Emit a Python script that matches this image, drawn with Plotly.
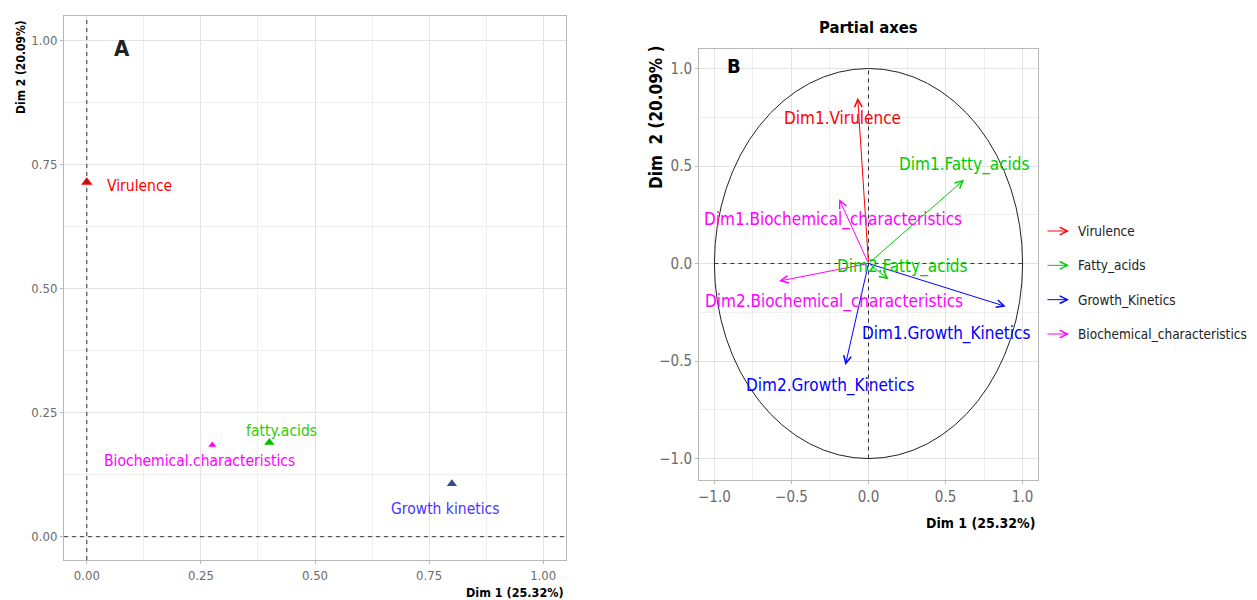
import plotly.graph_objects as go

# ---------------- Data ----------------
# Panel A : groups representation
A_groups = ["Virulence", "fatty.acids", "Biochemical.characteristics", "Growth kinetics"]
A_dim1 = [0.0, 0.40, 0.275, 0.80]
A_dim2 = [0.715, 0.19, 0.185, 0.107]

# Panel B : partial axes
B_groups = ["Virulence", "Fatty_acids", "Growth_Kinetics", "Biochemical_characteristics"]
B_axes = ["Dim1.Virulence", "Dim1.Fatty_acids", "Dim2.Fatty_acids",
          "Dim1.Growth_Kinetics", "Dim2.Growth_Kinetics",
          "Dim1.Biochemical_characteristics", "Dim2.Biochemical_characteristics"]
B_axis_group = ["Virulence", "Fatty_acids", "Fatty_acids",
                "Growth_Kinetics", "Growth_Kinetics",
                "Biochemical_characteristics", "Biochemical_characteristics"]
B_dim1 = [-0.07, 0.62, 0.13, 0.89, -0.15, -0.19, -0.58]
B_dim2 = [0.85, 0.43, -0.08, -0.22, -0.52, 0.33, -0.09]

A_ticks = [0.0, 0.25, 0.5, 0.75, 1.0]
B_ticks = [-1.0, -0.5, 0.0, 0.5, 1.0]

# ---------------- Styles ----------------
NARROW = "DejaVu Sans Condensed, Liberation Sans Narrow, sans-serif"
BOLD = "DejaVu Sans Condensed, Liberation Sans, sans-serif"
A_label_color = ["#FF0000", "#33CC00", "#FF00FF", "#4B33FF"]
A_marker_color = ["#FF0000", "#00C000", "#FF00FF", "#34508C"]
A_marker_size = [10, 9, 7, 9]
A_label_anchor = ["left", "center", "center", "center"]
A_label_shift = [(18, -4), (12, 11), (-13, -16), (-6, -25)]
B_color = {"Virulence": "#FF0000", "Fatty_acids": "#00CD00",
           "Growth_Kinetics": "#0000FF", "Biochemical_characteristics": "#FF00FF"}
B_label_shift = [(-15, -20), (0, 15), (14, 13), (-59, -27), (-15, -21), (-6, -20), (55, -20)]

# page body has an 8px margin -> figure is drawn at (8, 8)
OFF = 8
W, H = 1257 - OFF, 600 - OFF


def px(x):
    return (x - OFF) / W


def py(y):
    return 1 - (y - OFF) / H


fig = go.Figure()

# Panel A markers
for g, x, y, c, s in zip(A_groups, A_dim1, A_dim2, A_marker_color, A_marker_size):
    fig.add_trace(go.Scatter(x=[x], y=[y], mode="markers", xaxis="x", yaxis="y",
                             marker=dict(symbol="triangle-up", color=c, size=s),
                             showlegend=False, hoverinfo="text", text=[g]))

ann = []
for g, x, y, c, anc, (dx, dy) in zip(A_groups, A_dim1, A_dim2, A_label_color, A_label_anchor, A_label_shift):
    ann.append(dict(x=x, y=y, xref="x", yref="y", text=g, showarrow=False,
                    xanchor=anc, yanchor="middle", xshift=dx, yshift=dy,
                    font=dict(family=NARROW, size=15.5, color=c)))

# Panel B arrows
for name, g, x, y in zip(B_axes, B_axis_group, B_dim1, B_dim2):
    ann.append(dict(x=x, y=y, xref="x2", yref="y2", ax=0, ay=0, axref="x2", ayref="y2",
                    text="", showarrow=True, arrowhead=5, arrowwidth=1, arrowsize=1.5,
                    arrowcolor=B_color[g]))
for name, g, x, y, (dx, dy) in zip(B_axes, B_axis_group, B_dim1, B_dim2, B_label_shift):
    ann.append(dict(x=x, y=y, xref="x2", yref="y2", text=name, showarrow=False,
                    xshift=dx, yshift=dy, xanchor="center", yanchor="middle",
                    font=dict(family=NARROW, size=17, color=B_color[g])))

# Legend for panel B (own hidden axis)
for i, g in enumerate(B_groups):
    ann.append(dict(x=1, y=i, xref="x3", yref="y3", ax=0, ay=i, axref="x3", ayref="y3",
                    text="", showarrow=True, arrowhead=5, arrowwidth=1, arrowsize=1.5,
                    arrowcolor=B_color[g]))
    ann.append(dict(x=1.3, y=i, xref="x3", yref="y3", text=g, showarrow=False,
                    xanchor="left", yanchor="middle",
                    font=dict(family=NARROW, size=13.5, color="#222222")))
fig.add_trace(go.Scatter(x=[0], y=[0], xaxis="x3", yaxis="y3", mode="markers",
                         marker=dict(opacity=0), showlegend=False, hoverinfo="skip"))

# Titles / panel letters
ann += [
    dict(x=0.078, y=0.985, xref="x", yref="y", text="<b>A</b>", showarrow=False,
         font=dict(family=BOLD, size=22, color="#222222")),
    dict(x=-0.87, y=1.015, xref="x2", yref="y2", text="<b>B</b>", showarrow=False,
         font=dict(family=BOLD, size=20, color="#000000")),
    dict(x=px(566), y=py(592), xref="paper", yref="paper", xanchor="right", yanchor="middle",
         text="<b>Dim 1 (25.32%)</b>", showarrow=False,
         font=dict(family=NARROW, size=12.5, color="#000000")),
    dict(x=px(21), y=py(67), xref="paper", yref="paper", textangle=-90,
         xanchor="center", yanchor="middle",
         text="<b>Dim 2 (20.09%)</b>", showarrow=False,
         font=dict(family=BOLD, size=12, color="#000000")),
    dict(x=px(1037), y=py(523), xref="paper", yref="paper", xanchor="right", yanchor="middle",
         text="<b>Dim 1 (25.32%)</b>", showarrow=False,
         font=dict(family=NARROW, size=14, color="#000000")),
    dict(x=px(656), y=py(117), xref="paper", yref="paper", textangle=-90,
         xanchor="center", yanchor="middle",
         text="<b>Dim  2 (20.09% )</b>", showarrow=False,
         font=dict(family=BOLD, size=17, color="#000000")),
    dict(x=0, y=py(27), xref="x2", yref="paper", xanchor="center", yanchor="middle",
         text="<b>Partial axes</b>", showarrow=False,
         font=dict(family=NARROW, size=16.5, color="#000000")),
]

dash = "4px,4px"
shapes = [
    dict(type="line", xref="x", yref="y domain", x0=0, x1=0, y0=0, y1=1,
         line=dict(color="#333333", width=1, dash=dash)),
    dict(type="line", xref="x domain", yref="y", x0=0, x1=1, y0=0, y1=0,
         line=dict(color="#333333", width=1, dash=dash)),
    dict(type="circle", xref="x2", yref="y2", x0=-1, x1=1, y0=-1, y1=1,
         line=dict(color="#222222", width=1)),
    dict(type="line", xref="x2", yref="y2", x0=-1, x1=1, y0=0, y1=0,
         line=dict(color="#333333", width=1, dash=dash)),
    dict(type="line", xref="x2", yref="y2", x0=0, x1=0, y0=-1, y1=1,
         line=dict(color="#333333", width=1, dash=dash)),
]


def ax_style(ticks, fmt, minor_dt, size):
    return dict(tickvals=ticks, tickformat=fmt, showgrid=True, gridcolor="#e3e3e3", gridwidth=1,
                minor=dict(dtick=minor_dt, tick0=0, showgrid=True, gridcolor="#efefef", gridwidth=1),
                zeroline=False, showline=True, mirror=True, linecolor="#b8b8b8", linewidth=1,
                ticks="outside", ticklen=3, tickcolor="#b8b8b8",
                tickfont=dict(family=NARROW, size=size, color="#6b6b6b"))


fig.update_layout(
    width=W, height=H, margin=dict(l=0, r=0, t=0, b=0),
    paper_bgcolor="white", plot_bgcolor="white", showlegend=False,
    xaxis=dict(domain=[px(64), px(566)], range=[-0.05, 1.05], anchor="y",
               **ax_style(A_ticks, ".2f", 0.125, 13)),
    yaxis=dict(domain=[py(560), py(16)], range=[-0.047, 1.05], anchor="x",
               **ax_style(A_ticks, ".2f", 0.125, 13)),
    xaxis2=dict(domain=[px(699), px(1038)], range=[-1.1, 1.1], anchor="y2",
                **ax_style(B_ticks, ".1f", 0.25, 15)),
    yaxis2=dict(domain=[py(480), py(49)], range=[-1.11, 1.1], anchor="x2",
                **ax_style(B_ticks, ".1f", 0.25, 15)),
    xaxis3=dict(domain=[px(1046), 1.0], range=[0, (1257 - 1046) / 23], visible=False, anchor="y3"),
    yaxis3=dict(domain=[py(350), py(215)], range=[3.466, -0.466], visible=False, anchor="x3"),
    annotations=ann, shapes=shapes,
)

fig.write_html("out.html")
